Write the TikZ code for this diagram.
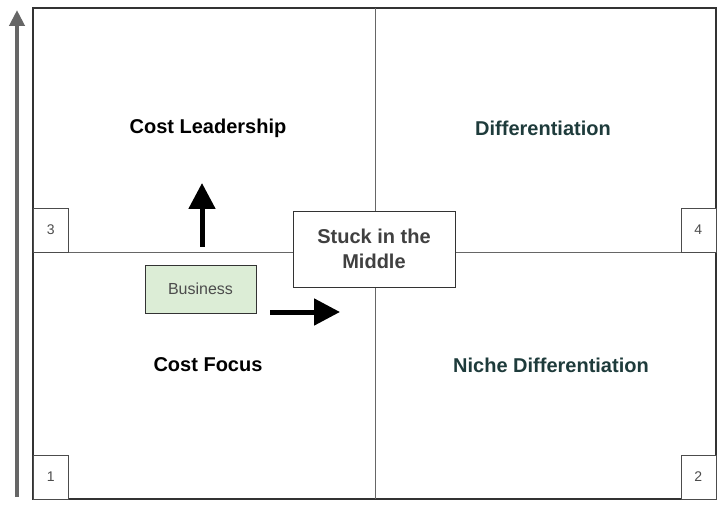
\documentclass[tikz,border=0pt]{standalone}
\usepackage{fontspec}
\setmainfont{Liberation Sans}
\usetikzlibrary{arrows.meta}
\definecolor{darkteal}{HTML}{1E3B3B}
\definecolor{bizgreen}{HTML}{DCEDD6}
\begin{document}
\begin{tikzpicture}[
    x=1pt, y=-1pt,
    every node/.style={font=\bfseries\fontsize{20}{24}\selectfont},
    numbox/.style={draw=black!70, fill=white, font=\fontsize{14}{16}\selectfont, text=black!70, minimum width=35pt, minimum height=44pt, inner sep=0pt},
    bigarrow/.style={-{Triangle[length=26pt,width=26pt]}, line width=5pt}
]
\useasboundingbox (0,0) rectangle (723,505);
% quadrants
\draw[black!80, line width=1.2pt] (33,8) rectangle (716,499);
\draw[black!60] (375,8) -- (375,499);
\draw[black!60] (33,252) -- (716,252);
% vertical axis
\coordinate (axisbot) at (17,497);
\coordinate (axistop) at (17,10);
\draw[-{Triangle[length=16pt,width=15pt]}, line width=4pt, black!60] (axisbot) -- (axistop);
% corner numbers
\node[numbox, anchor=south west] (n3) at (33,252) {3};
\node[numbox, anchor=south east] (n4) at (716,252) {4};
\node[numbox, anchor=south west] (n1) at (33,499) {1};
\node[numbox, anchor=south east] (n2) at (716,499) {2};
% quadrant labels
\node (costlead) at (208,128) {Cost Leadership};
\node[text=darkteal] (diff) at (543,128) {Differentiation};
\node (costfocus) at (208,365) {Cost Focus};
\node[text=darkteal] (niche) at (551,365) {Niche Differentiation};
% boxes
\node[draw=black!80, fill=white, text=black!75, align=center, minimum width=162pt, minimum height=76pt, font=\bfseries\fontsize{20}{25}\selectfont] (stuck) at (374,249) {Stuck in the\\Middle};
\node[draw=black!80, fill=bizgreen, text=black!70, font=\fontsize{16}{18}\selectfont, minimum width=111pt, minimum height=48pt] (biz) at (200.5,289) {Business};
% movement arrows
\coordinate (upstart) at (202,247);
\coordinate (upend) at (202,183);
\coordinate (rtstart) at (270,312);
\coordinate (rtend) at (340,312);
\draw[bigarrow] (upstart) -- (upend);
\draw[bigarrow] (rtstart) -- (rtend);
\end{tikzpicture}
\end{document}
